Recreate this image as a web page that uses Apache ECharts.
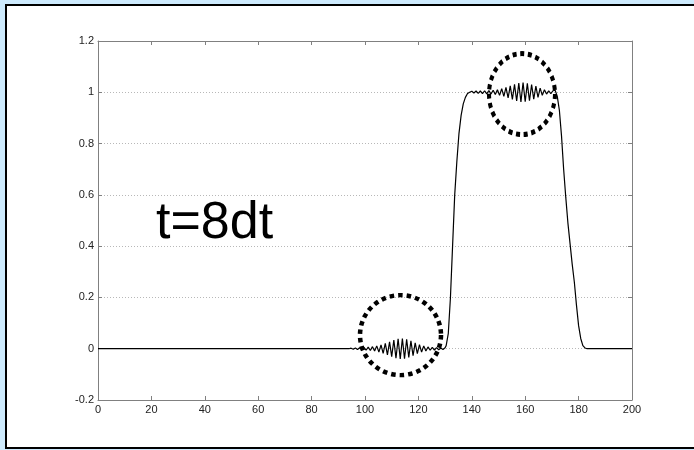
<!DOCTYPE html>
<html>
<head>
<meta charset="utf-8">
<script src="https://cdn.jsdelivr.net/npm/echarts@6/dist/echarts.min.js"></script>
<style>
  html, body { margin: 0; padding: 0; background: #cdeafd; }
  #frame {
    position: absolute; left: 5px; top: 4px; width: 700px; height: 441px;
    background: #fff; border: 2px solid #000;
  }
  #chart { position: absolute; left: 0; top: 0; width: 694px; height: 450px; }
</style>
</head>
<body>
<div id="frame"></div>
<div id="chart"></div>
<script>
// pulse at t=8dt as [t, value]
const flatStart = [[0, 0], [94, 0]];

const lowRipple = [
  [94.8, 0.002], [95.6, -0.002], [96.4, 0.003], [97.2, -0.003], [98.0, 0.004],
  [98.8, -0.004], [99.6, 0.005], [100.4, -0.006], [101.2, 0.006], [102.0, -0.007],
  [102.8, 0.008], [103.6, -0.009], [104.4, 0.011], [105.2, -0.013], [106.0, 0.015],
  [106.8, -0.018], [107.6, 0.021], [108.4, -0.024], [109.2, 0.027], [110.0, -0.031],
  [110.8, 0.034], [111.6, -0.037], [112.4, 0.039], [113.2, -0.04], [114.0, 0.04],
  [114.8, -0.039], [115.6, 0.037], [116.4, -0.034], [117.2, 0.031], [118.0, -0.027],
  [118.8, 0.023], [119.6, -0.019], [120.4, 0.016], [121.2, -0.013], [122.0, 0.011],
  [122.8, -0.009], [123.6, 0.007], [124.4, -0.006], [125.2, 0.005], [126.0, -0.005],
  [126.8, 0.004], [127.6, -0.004], [128.4, 0.003], [129.2, -0.003]
];

const riseEdge = [
  [130.0, 0.004], [130.4, 0.012], [131.2, 0.06], [132.0, 0.2], [132.8, 0.4],
  [133.6, 0.6], [134.4, 0.73], [135.2, 0.84], [136.0, 0.91], [136.8, 0.955],
  [137.6, 0.98], [138.4, 0.995], [139.2, 1.0]
];

const topRipple = [
  [140.0, 1.004], [140.8, 0.997], [141.6, 1.005], [142.4, 0.996], [143.2, 1.005],
  [144.0, 0.995], [144.8, 1.006], [145.6, 0.994], [146.4, 1.007], [147.2, 0.993],
  [148.0, 1.008], [148.8, 0.991], [149.6, 1.01], [150.4, 0.988], [151.2, 1.014],
  [152.0, 0.984], [152.8, 1.019], [153.6, 0.978], [154.4, 1.025], [155.2, 0.972],
  [156.0, 1.031], [156.8, 0.966], [157.6, 1.036], [158.4, 0.962], [159.2, 1.038],
  [160.0, 0.963], [160.8, 1.035], [161.6, 0.967], [162.4, 1.03], [163.2, 0.973],
  [164.0, 1.024], [164.8, 0.98], [165.6, 1.016], [166.4, 0.988], [167.2, 1.01],
  [168.0, 0.993], [168.8, 1.006], [169.6, 0.995], [170.4, 1.006], [171.2, 1.008]
];

const fallEdge = [
  [172.0, 0.985], [172.8, 0.93], [173.6, 0.83], [174.4, 0.7], [175.2, 0.59],
  [176.0, 0.49], [176.8, 0.41], [177.6, 0.33], [178.4, 0.26], [179.2, 0.17],
  [180.0, 0.09], [180.8, 0.04], [181.6, 0.012], [182.4, 0.003], [183.2, 0]
];

const flatEnd = [[200, 0]];

// centres of the two dotted rings [t, value]
const lowRing = [113.3, 0.053];
const topRing = [158.8, 0.993];

const xTicks = { min: 0, max: 200, interval: 20 };
const yTicks = { min: -0.2, max: 1.2, interval: 0.2 };

const wave = [].concat(flatStart, lowRipple, riseEdge, topRipple, fallEdge, flatEnd);

const axisGray = '#808080';
const labelFont = { fontFamily: 'Liberation Sans, Arial, sans-serif', fontSize: 11, color: '#222' };

function xAxisOf(pos, labels) {
  return {
    type: 'value', position: pos, ...xTicks,
    axisLine: { show: true, onZero: false, lineStyle: { color: axisGray, width: 1 } },
    axisTick: { show: true, inside: true, length: 4, lineStyle: { color: axisGray } },
    axisLabel: { show: labels, margin: 4, ...labelFont },
    splitLine: { show: false }
  };
}

function yAxisOf(pos, labels) {
  return {
    type: 'value', position: pos, ...yTicks,
    axisLine: { show: true, onZero: false, lineStyle: { color: axisGray, width: 1 } },
    axisTick: { show: true, inside: true, length: 4, lineStyle: { color: axisGray } },
    axisLabel: { show: labels, margin: 4, ...labelFont },
    splitLine: {
      show: labels,
      lineStyle: { color: '#b8b8b8', type: [1, 2], width: 1 }
    }
  };
}

const ringStyle = {
  color: 'rgba(0,0,0,0)',
  borderColor: '#000',
  borderWidth: 4.5,
  borderType: [4.5, 4],
  borderCap: 'butt',
  opacity: 1
};

const option = {
  animation: false,
  grid: { left: 98, right: 62, top: 41, bottom: 50 },
  xAxis: [xAxisOf('bottom', true), xAxisOf('top', false)],
  yAxis: [yAxisOf('left', true), yAxisOf('right', false)],
  graphic: [{
    type: 'text',
    left: 156,
    top: 198,
    style: {
      text: 't=8dt',
      font: '52px "Liberation Sans", Arial, sans-serif',
      fill: '#000'
    }
  }],
  series: [
    {
      type: 'line',
      data: wave,
      showSymbol: false,
      lineStyle: { color: '#000', width: 1.2 },
      silent: true
    },
    {
      type: 'scatter',
      data: [lowRing],
      symbol: 'circle',
      symbolSize: [81, 80],
      itemStyle: ringStyle,
      silent: true,
      z: 5
    },
    {
      type: 'scatter',
      data: [topRing],
      symbol: 'circle',
      symbolSize: [66, 81],
      itemStyle: ringStyle,
      silent: true,
      z: 5
    }
  ]
};

const chart = echarts.init(document.getElementById('chart'));
chart.setOption(option);
</script>
</body>
</html>
